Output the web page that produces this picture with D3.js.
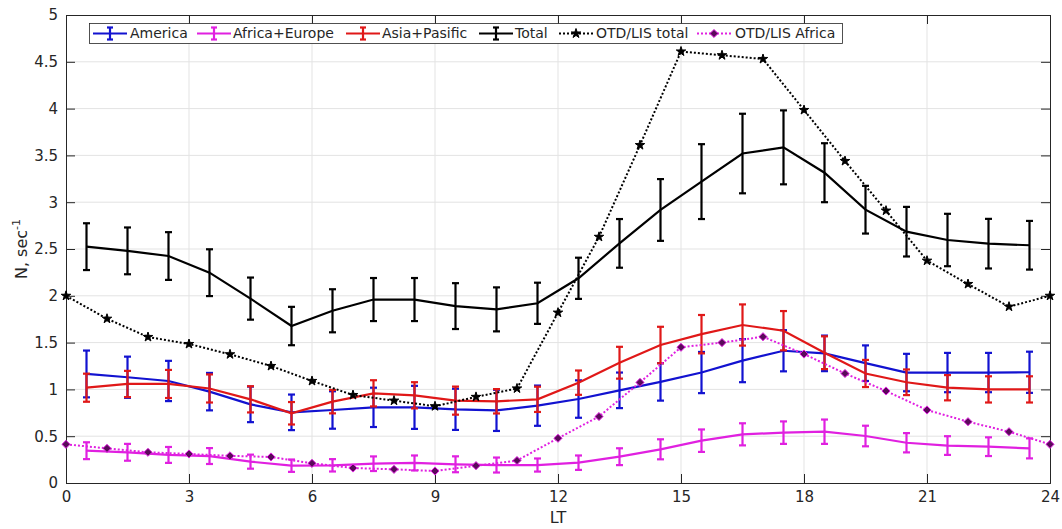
<!DOCTYPE html>
<html>
<head>
<meta charset="utf-8">
<script src="https://cdn.jsdelivr.net/npm/d3@7"></script>
<style>
  html, body { margin: 0; padding: 0; background: #fff; }
  svg { display: block; font-family: "DejaVu Sans", sans-serif; }
</style>
</head>
<body>
<svg id="chart" width="1062" height="529"></svg>
<script>
// Local time of the measured series (half-hour centres) and of the OTD/LIS climatology
const hoursHalf = d3.range(0.5, 24, 1);
const hoursFull = d3.range(0, 25, 1);

// Measured flash rates (N, sec^-1) and their error half-widths
const americaVals = [1.165, 1.13, 1.09, 0.976, 0.84, 0.755, 0.78, 0.808, 0.808, 0.787, 0.776, 0.826,
                     0.897, 0.99, 1.08, 1.18, 1.307, 1.413, 1.385, 1.28, 1.18, 1.18, 1.18, 1.183];
const americaErr  = [0.25, 0.22, 0.215, 0.2, 0.19, 0.19, 0.2, 0.21, 0.23, 0.22, 0.22, 0.215,
                     0.2, 0.19, 0.2, 0.22, 0.23, 0.22, 0.19, 0.19, 0.2, 0.21, 0.21, 0.22];

const africaEuVals = [0.345, 0.328, 0.30, 0.288, 0.228, 0.185, 0.189, 0.206, 0.214, 0.20, 0.192, 0.192,
                      0.217, 0.281, 0.36, 0.452, 0.52, 0.538, 0.548, 0.502, 0.43, 0.40, 0.388, 0.37];
const africaEuErr  = [0.09, 0.09, 0.085, 0.085, 0.075, 0.066, 0.066, 0.078, 0.08, 0.085, 0.08, 0.07,
                      0.077, 0.09, 0.107, 0.12, 0.118, 0.12, 0.13, 0.11, 0.103, 0.1, 0.1, 0.107];

const asiaVals = [1.018, 1.058, 1.058, 1.01, 0.894, 0.745, 0.869, 0.958, 0.937, 0.88, 0.873, 0.894,
                  1.072, 1.285, 1.474, 1.59, 1.688, 1.627, 1.392, 1.17, 1.076, 1.018, 1.0, 1.0];
const asiaErr  = [0.15, 0.14, 0.15, 0.15, 0.14, 0.12, 0.125, 0.14, 0.14, 0.15, 0.13, 0.135,
                  0.13, 0.17, 0.195, 0.205, 0.22, 0.21, 0.175, 0.145, 0.137, 0.135, 0.14, 0.14];

const totalVals = [2.525, 2.48, 2.425, 2.247, 1.97, 1.677, 1.84, 1.96, 1.96, 1.89, 1.855, 1.92,
                   2.187, 2.56, 2.917, 3.22, 3.52, 3.586, 3.315, 2.92, 2.685, 2.596, 2.557, 2.54];
const totalErr  = [0.25, 0.25, 0.255, 0.25, 0.225, 0.205, 0.23, 0.23, 0.23, 0.245, 0.235, 0.22,
                   0.22, 0.26, 0.33, 0.4, 0.425, 0.395, 0.315, 0.255, 0.265, 0.28, 0.265, 0.26];

// OTD/LIS satellite climatology
const otdTotal  = [2.0, 1.755, 1.56, 1.485, 1.375, 1.25, 1.09, 0.94, 0.88, 0.82, 0.92, 1.01, 1.82,
                   2.63, 3.61, 4.61, 4.57, 4.53, 3.985, 3.44, 2.91, 2.375, 2.126, 1.884, 2.0];
const otdAfrica = [0.413, 0.37, 0.328, 0.31, 0.29, 0.278, 0.21, 0.16, 0.146, 0.128, 0.185, 0.24, 0.478,
                   0.71, 1.075, 1.45, 1.50, 1.563, 1.378, 1.17, 0.983, 0.78, 0.655, 0.548, 0.413];

const xTicks = [0, 3, 6, 9, 12, 15, 18, 21, 24];
const yTicks = [0, 0.5, 1, 1.5, 2, 2.5, 3, 3.5, 4, 4.5, 5];

const seriesNames = ["America", "Africa+Europe", "Asia+Pasific", "Total", "OTD/LIS total", "OTD/LIS Africa"];

// ---- layout ----
const W = 1062, H = 529;
const margin = { left: 66, right: 12, top: 15, bottom: 46 };
const iw = W - margin.left - margin.right;
const ih = H - margin.top - margin.bottom;
const axisColor = "#262626";

const svg = d3.select("#chart");
const g = svg.append("g").attr("transform", `translate(${margin.left},${margin.top})`);

const x = d3.scaleLinear().domain([0, 24]).range([0, iw]);
const y = d3.scaleLinear().domain([0, 5]).range([ih, 0]);

// grid
g.append("g").selectAll("line.gx").data(xTicks.slice(1, -1)).join("line")
  .attr("x1", d => x(d)).attr("x2", d => x(d)).attr("y1", 0).attr("y2", ih)
  .attr("stroke", "#e3e3e3").attr("stroke-width", 1);
g.append("g").selectAll("line.gy").data(yTicks.slice(1, -1)).join("line")
  .attr("y1", d => y(d)).attr("y2", d => y(d)).attr("x1", 0).attr("x2", iw)
  .attr("stroke", "#e3e3e3").attr("stroke-width", 1);

// axes (ticks pointing inward, box on)
const fmt = d => String(d);
const xAxis = g.append("g").attr("transform", `translate(0,${ih})`)
  .call(d3.axisBottom(x).tickValues(xTicks).tickFormat(fmt).tickSize(-9).tickPadding(8));
const xAxisTop = g.append("g")
  .call(d3.axisTop(x).tickValues(xTicks).tickFormat("").tickSize(-9));
const yAxis = g.append("g")
  .call(d3.axisLeft(y).tickValues(yTicks).tickFormat(fmt).tickSize(-9).tickPadding(8));
const yAxisRight = g.append("g").attr("transform", `translate(${iw},0)`)
  .call(d3.axisRight(y).tickValues(yTicks).tickFormat("").tickSize(-9));

[xAxis, xAxisTop, yAxis, yAxisRight].forEach(a => {
  a.select(".domain").attr("stroke", axisColor).attr("stroke-width", 1);
  a.selectAll(".tick line").attr("stroke", axisColor).attr("stroke-width", 1);
  a.selectAll(".tick text").attr("fill", axisColor).attr("font-size", 15)
    .attr("font-family", "DejaVu Sans, sans-serif");
});
xAxis.selectAll(".tick text").attr("dy", "0.75em");

// axis titles
svg.append("text").attr("x", margin.left + iw / 2).attr("y", 523)
  .attr("text-anchor", "middle").attr("font-size", 16).attr("fill", axisColor).text("LT");
const yl = svg.append("text")
  .attr("transform", `translate(27,${margin.top + ih / 2}) rotate(-90)`)
  .attr("text-anchor", "middle").attr("font-size", 16).attr("fill", axisColor);
yl.append("tspan").text("N, sec");
yl.append("tspan").attr("dy", -7).attr("font-size", 11).text("-1");

// ---- data marks ----
const plot = g.append("g");
const line = d3.line().x(d => x(d[0])).y(d => y(d[1]));
const cap = 3.5;

function errorSeries(vals, errs, color) {
  const pts = hoursHalf.map((h, i) => [h, vals[i], errs[i]]);
  const grp = plot.append("g");
  grp.append("path").datum(pts).attr("d", line)
    .attr("fill", "none").attr("stroke", color).attr("stroke-width", 2.2);
  const eb = grp.selectAll("g.eb").data(pts).join("g");
  eb.append("line")
    .attr("x1", d => x(d[0])).attr("x2", d => x(d[0]))
    .attr("y1", d => y(d[1] - d[2])).attr("y2", d => y(d[1] + d[2]))
    .attr("stroke", color).attr("stroke-width", 2.2);
  eb.append("line")
    .attr("x1", d => x(d[0]) - cap).attr("x2", d => x(d[0]) + cap)
    .attr("y1", d => y(d[1] + d[2])).attr("y2", d => y(d[1] + d[2]))
    .attr("stroke", color).attr("stroke-width", 2.2);
  eb.append("line")
    .attr("x1", d => x(d[0]) - cap).attr("x2", d => x(d[0]) + cap)
    .attr("y1", d => y(d[1] - d[2])).attr("y2", d => y(d[1] - d[2]))
    .attr("stroke", color).attr("stroke-width", 2.2);
}

const cAmerica = "#1212d0", cAfrica = "#e020e0", cAsia = "#e01818", cTotal = "#000000";
const diamondFill = "#5a0a5a";
const star = d3.symbol().type(d3.symbolStar).size(28);
const diamond = d3.symbol().type(d3.symbolDiamond2).size(42);

function dottedSeries(vals, color, sym, fill, edge) {
  const pts = hoursFull.map((h, i) => [h, vals[i]]);
  const grp = plot.append("g");
  grp.append("path").datum(pts).attr("d", line)
    .attr("fill", "none").attr("stroke", color).attr("stroke-width", 2)
    .attr("stroke-dasharray", "2,2");
  grp.selectAll("path.m").data(pts).join("path")
    .attr("transform", d => `translate(${x(d[0])},${y(d[1])})`)
    .attr("d", sym).attr("fill", fill).attr("stroke", edge).attr("stroke-width", 1);
}

errorSeries(americaVals, americaErr, cAmerica);
errorSeries(africaEuVals, africaEuErr, cAfrica);
errorSeries(asiaVals, asiaErr, cAsia);
errorSeries(totalVals, totalErr, cTotal);
dottedSeries(otdTotal, "#000", star, "#000", "#000");
dottedSeries(otdAfrica, cAfrica, diamond, diamondFill, cAfrica);

// ---- legend ----
const lg = svg.append("g");
lg.append("rect").attr("x", 89.5).attr("y", 23.5).attr("width", 753).attr("height", 20)
  .attr("fill", "#fff").attr("stroke", axisColor).attr("stroke-width", 0.8);
const legendItems = [
  { name: seriesNames[0], color: cAmerica, kind: "err", x0: 93, tx: 130 },
  { name: seriesNames[1], color: cAfrica, kind: "err", x0: 197, tx: 233 },
  { name: seriesNames[2], color: cAsia, kind: "err", x0: 346, tx: 382 },
  { name: seriesNames[3], color: cTotal, kind: "err", x0: 479, tx: 515 },
  { name: seriesNames[4], color: "#000", kind: "star", x0: 559, tx: 596 },
  { name: seriesNames[5], color: cAfrica, kind: "dia", x0: 697, tx: 735 }
];
const ly = 33.5;
legendItems.forEach(it => {
  const cx = it.x0 + 17;
  if (it.kind === "err") {
    lg.append("line").attr("x1", it.x0).attr("x2", it.x0 + 34).attr("y1", ly).attr("y2", ly)
      .attr("stroke", it.color).attr("stroke-width", 2.2);
    lg.append("line").attr("x1", cx).attr("x2", cx).attr("y1", ly - 6).attr("y2", ly + 6)
      .attr("stroke", it.color).attr("stroke-width", 2.2);
    [ly - 6, ly + 6].forEach(yy => lg.append("line")
      .attr("x1", cx - 3).attr("x2", cx + 3).attr("y1", yy).attr("y2", yy)
      .attr("stroke", it.color).attr("stroke-width", 2.2));
  } else {
    lg.append("line").attr("x1", it.x0).attr("x2", it.x0 + 34).attr("y1", ly).attr("y2", ly)
      .attr("stroke", it.color).attr("stroke-width", 2).attr("stroke-dasharray", "2,2");
    lg.append("path").attr("transform", `translate(${cx},${ly})`)
      .attr("d", it.kind === "star" ? star : diamond)
      .attr("fill", it.kind === "star" ? "#000" : diamondFill)
      .attr("stroke", it.color).attr("stroke-width", 1);
  }
  lg.append("text").attr("x", it.tx).attr("y", ly).attr("dy", "0.35em")
    .attr("font-size", 14).attr("fill", axisColor).text(it.name);
});
</script>
</body>
</html>
